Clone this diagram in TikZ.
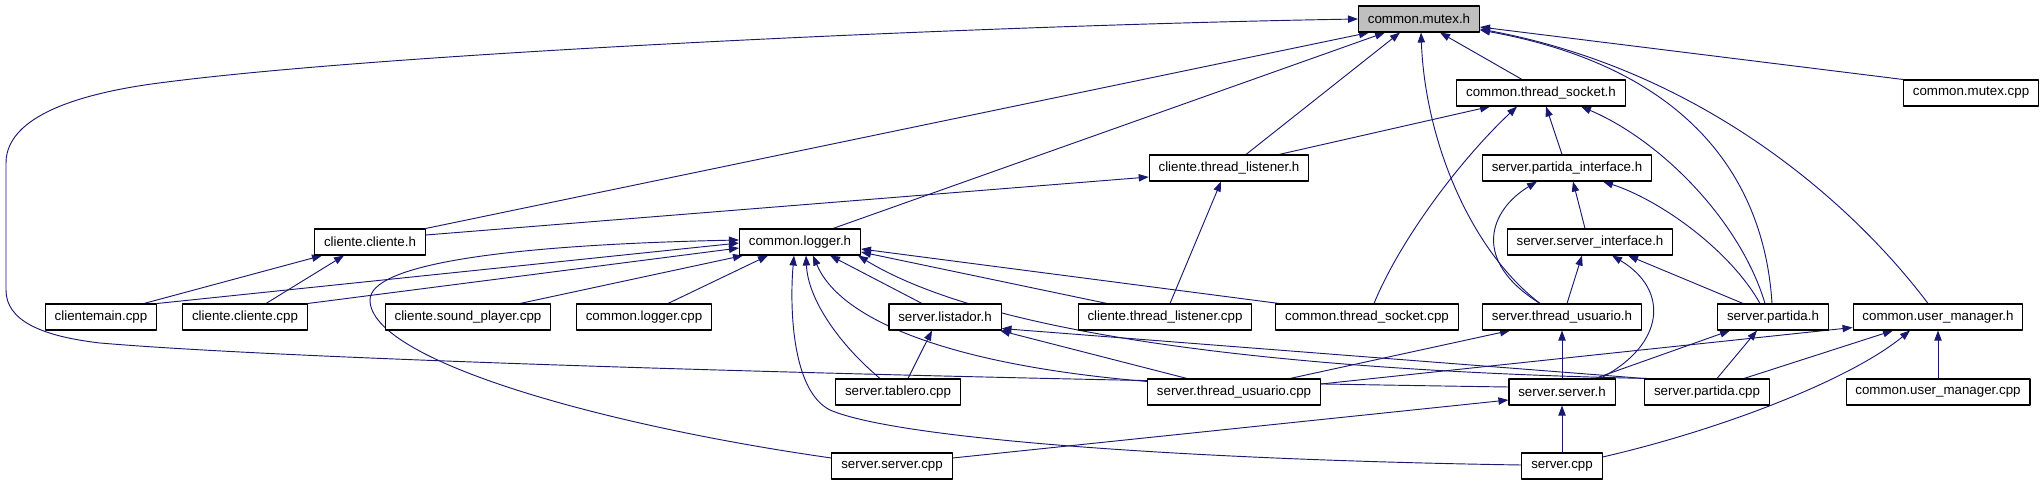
\documentclass[tikz,border=0pt]{standalone}
\usepackage{fontspec}
\setmainfont{Liberation Sans}
\usetikzlibrary{arrows.meta,calc,backgrounds}
\definecolor{edgeblue}{HTML}{191970}
\definecolor{rootgray}{HTML}{BFBFBF}

\begin{document}
\begin{tikzpicture}[x=0.75pt,y=-0.75pt, font=\fontsize{10}{12}\selectfont, line join=round,
  file/.style={draw=black,line width=0.8pt,fill=white,inner xsep=7pt,inner ysep=0pt,minimum height=19.5pt},
  root/.style={file,fill=rootgray},
  inc/.style={draw=edgeblue,line width=0.7pt,-{Triangle[length=7.5pt,width=5.5pt]}}]
\useasboundingbox (0,0) rectangle (2044,485);
% header files and sources, rank by rank
\node[root] (mutexh) at (1419,19) {common.mutex.h};
\node[file] (threadsocketh) at (1541,93) {common.thread\_socket.h};
\node[file] (mutexcpp) at (1971,93) {common.mutex.cpp};
\node[file] (listenerh) at (1229,168) {cliente.thread\_listener.h};
\node[file] (partidaifh) at (1567,168) {server.partida\_interface.h};
\node[file] (clienteh) at (370,242) {cliente.cliente.h};
\node[file] (loggerh) at (800,242) {common.logger.h};
\node[file] (serverifh) at (1590,242) {server.server\_interface.h};
\node[file] (clientemaincpp) at (101,317) {clientemain.cpp};
\node[file] (clientecpp) at (245,317) {cliente.cliente.cpp};
\node[file] (soundcpp) at (468,317) {cliente.sound\_player.cpp};
\node[file] (loggercpp) at (644,317) {common.logger.cpp};
\node[file] (listadorh) at (945,317) {server.listador.h};
\node[file] (listenercpp) at (1165,317) {cliente.thread\_listener.cpp};
\node[file] (socketcpp) at (1367,317) {common.thread\_socket.cpp};
\node[file] (usuarioh) at (1562,317) {server.thread\_usuario.h};
\node[file] (partidah) at (1773,317) {server.partida.h};
\node[file] (usermgrh) at (1938,317) {common.user\_manager.h};
\node[file] (tablerocpp) at (898,392) {server.tablero.cpp};
\node[file] (usuariocpp) at (1234,392) {server.thread\_usuario.cpp};
\node[file] (serverh) at (1562,392) {server.server.h};
\node[file] (partidacpp) at (1707,392) {server.partida.cpp};
\node[file] (usermgrcpp) at (1938,392) {common.user\_manager.cpp};
\node[file] (serverservercpp) at (892,466) {server.server.cpp};
\node[file] (servercpp) at (1562,466) {server.cpp};

\begin{scope}[on background layer]
% into common.mutex.h
\draw[inc] (clienteh.north east) -- ($(mutexh.south)+(-50,0)$);
\draw[inc] ($(loggerh.north)+(33,0)$) -- ($(mutexh.south)+(-34,0)$);
\draw[inc] ($(listenerh.north)+(17,0)$) -- ($(mutexh.south)+(-19,0)$);
\draw[inc] ($(usuarioh.north)+(-22,0)$) .. controls (1470,250) and (1425,140) .. ($(mutexh.south)+(2,0)$);
\draw[inc] ($(threadsocketh.north)+(-19,0)$) -- ($(mutexh.south)+(21,0)$);
\draw[inc] (mutexcpp.north west) -- ($(mutexh.east)+(0,8)$);
\draw[inc] ($(partidah.north)+(-1,0)$) .. controls (1765,190) and (1700,70) .. ($(mutexh.east)+(0,11)$);
\draw[inc] ($(usermgrh.north)+(-10,0)$) .. controls (1850,200) and (1700,70) .. ($(mutexh.east)+(0,10)$);
\draw[inc] ($(serverh.west)+(0,-5)$) .. controls (900,378) and (300,360) .. (100,343) .. controls (40,336) and (6,320) .. (6,290) -- (6,163) .. controls (6,110) and (100,90) .. (167,82) .. controls (400,52) and (1000,25) .. (mutexh.west);
% into common.thread_socket.h
\draw[inc] ($(listenerh.north)+(50,0)$) -- ($(threadsocketh.south)+(-51,0)$);
\draw[inc] ($(socketcpp.north)+(7,0)$) .. controls (1400,240) and (1460,160) .. ($(threadsocketh.south)+(-24,0)$);
\draw[inc] ($(partidaifh.north)+(-5,0)$) -- ($(threadsocketh.south)+(5,0)$);
\draw[inc] ($(partidah.north)+(-8,0)$) .. controls (1740,220) and (1660,140) .. ($(threadsocketh.south)+(40,0)$);
% into server.partida_interface.h
\draw[inc] ($(usuarioh.north)+(-22,0)$) .. controls (1470,260) and (1490,210) .. ($(partidaifh.south)+(-30,0)$);
\draw[inc] ($(serverifh.north)+(-5,0)$) -- ($(partidaifh.south)+(6,0)$);
\draw[inc] ($(partidah.north)+(-13,0)$) .. controls (1730,250) and (1660,200) .. ($(partidaifh.south)+(36,0)$);
% into server.server_interface.h
\draw[inc] ($(usuarioh.north)+(5,0)$) -- ($(serverifh.south)+(-8,0)$);
\draw[inc] ($(serverh.north)+(38,0)$) .. controls (1665,345) and (1670,290) .. ($(serverifh.south)+(22,0)$);
\draw[inc] ($(partidah.north)+(-30,0)$) -- ($(serverifh.south)+(38,0)$);
% into cliente.thread_listener.h and cliente.cliente.h
\draw[inc] ($(clienteh.east)+(0,-7)$) -- ($(listenerh.west)+(0,9)$);
\draw[inc] ($(listenercpp.north)+(5,0)$) -- ($(listenerh.south)+(-8,0)$);
\draw[inc] ($(clientemaincpp.north)+(43,0)$) -- ($(clienteh.south)+(-48,0)$);
\draw[inc] ($(clientecpp.north)+(21,0)$) -- ($(clienteh.south)+(-26,0)$);
% into common.logger.h
\draw[inc] (clientemaincpp.north east) -- ($(loggerh.west)+(0,1)$);
\draw[inc] (clientecpp.north east) -- ($(loggerh.west)+(0,6)$);
\draw[inc] ($(soundcpp.north)+(52,0)$) -- ($(loggerh.south west)+(4,0)$);
\draw[inc] ($(loggercpp.north)+(24,0)$) -- ($(loggerh.south)+(-32,0)$);
\draw[inc] ($(serverservercpp.west)+(0,-8)$) .. controls (600,425) and (370,360) .. (370,300) .. controls (370,265) and (500,245) .. ($(loggerh.west)+(0,-2)$);
\draw[inc] ($(servercpp.west)+(0,-1)$) .. controls (1200,460) and (900,440) .. (830,410) .. controls (790,390) and (790,300) .. ($(loggerh.south)+(-6,0)$);
\draw[inc] ($(tablerocpp.north)+(-18,0)$) .. controls (840,345) and (808,300) .. ($(loggerh.south)+(6,0)$);
\draw[inc] ($(usuariocpp.north west)+(0,3)$) .. controls (950,365) and (840,320) .. ($(loggerh.south)+(13,0)$);
\draw[inc] ($(listadorh.north)+(-23,0)$) -- ($(loggerh.south)+(30,0)$);
\draw[inc] ($(partidacpp.north west)+(3,0)$) .. controls (1250,370) and (980,330) .. ($(loggerh.south east)+(-3,0)$);
\draw[inc] ($(listenercpp.north)+(-58,0)$) -- ($(loggerh.east)+(0,10)$);
\draw[inc] ($(socketcpp.north)+(-88,0)$) -- ($(loggerh.east)+(0,7)$);
% into server.listador.h
\draw[inc] ($(tablerocpp.north)+(10,0)$) -- ($(listadorh.south)+(-13,0)$);
\draw[inc] ($(usuariocpp.north)+(-47,0)$) -- ($(listadorh.south)+(55,0)$);
\draw[inc] (partidacpp.north west) -- ($(listadorh.south east)+(0,-2)$);
% into server.thread_usuario.h and server.partida.h
\draw[inc] ($(usuariocpp.north)+(56,0)$) -- ($(usuarioh.south)+(-52,0)$);
\draw[inc] (serverh.north) -- (usuarioh.south);
\draw[inc] ($(serverh.north)+(33,0)$) -- ($(partidah.south)+(-43,0)$);
\draw[inc] ($(partidacpp.north)+(10,0)$) -- ($(partidah.south)+(-16,0)$);
% into common.user_manager.h
\draw[inc] ($(usuariocpp.east)+(0,-8)$) -- ($(usermgrh.south west)+(0,-3)$);
\draw[inc] ($(partidacpp.north)+(37,0)$) -- ($(usermgrh.south)+(-45,0)$);
\draw[inc] ($(servercpp.east)+(0,-9)$) .. controls (1720,430) and (1850,380) .. ($(usermgrh.south)+(-28,0)$);
\draw[inc] (usermgrcpp.north) -- (usermgrh.south);
% into server.server.h
\draw[inc] ($(serverservercpp.east)+(0,-8)$) -- ($(serverh.west)+(0,8)$);
\draw[inc] (servercpp.north) -- (serverh.south);
\end{scope}
\end{tikzpicture}
\end{document}
